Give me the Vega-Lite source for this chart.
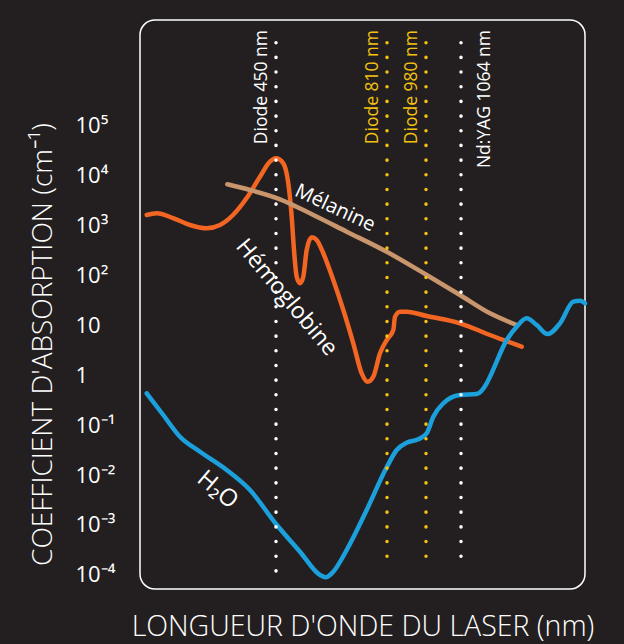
{
  "$schema": "https://vega.github.io/schema/vega-lite/v6.json",
  "width": 445,
  "height": 569,
  "autosize": {"type": "none"},
  "padding": {"left": 140, "top": 20, "right": 39, "bottom": 55},
  "background": "#231f20",
  "config": {
    "view": {"stroke": "#ffffff", "strokeWidth": 1.5, "cornerRadius": 15},
    "font": "Open Sans"
  },
  "datasets": {
    "curves": [
      {"series": "Hémoglobine", "nm": 212.3, "value": 1585},
      {"series": "Hémoglobine", "nm": 230.7, "value": 1714},
      {"series": "Hémoglobine", "nm": 260.7, "value": 1380},
      {"series": "Hémoglobine", "nm": 291.9, "value": 1000},
      {"series": "Hémoglobine", "nm": 322.6, "value": 859},
      {"series": "Hémoglobine", "nm": 347, "value": 1000},
      {"series": "Hémoglobine", "nm": 370.9, "value": 1585},
      {"series": "Hémoglobine", "nm": 396.1, "value": 3467},
      {"series": "Hémoglobine", "nm": 420.6, "value": 9247},
      {"series": "Hémoglobine", "nm": 438.9, "value": 18450},
      {"series": "Hémoglobine", "nm": 450, "value": 21580},
      {"series": "Hémoglobine", "nm": 473.7, "value": 17140},
      {"series": "Hémoglobine", "nm": 489.9, "value": 6823},
      {"series": "Hémoglobine", "nm": 500.9, "value": 1466},
      {"series": "Hémoglobine", "nm": 508.4, "value": 316},
      {"series": "Hémoglobine", "nm": 517.1, "value": 92.5},
      {"series": "Hémoglobine", "nm": 527.8, "value": 68.2},
      {"series": "Hémoglobine", "nm": 538.5, "value": 92.5},
      {"series": "Hémoglobine", "nm": 549.5, "value": 316},
      {"series": "Hémoglobine", "nm": 565.8, "value": 567},
      {"series": "Hémoglobine", "nm": 582, "value": 501},
      {"series": "Hémoglobine", "nm": 603.4, "value": 272},
      {"series": "Hémoglobine", "nm": 635.8, "value": 79.4},
      {"series": "Hémoglobine", "nm": 668.3, "value": 20},
      {"series": "Hémoglobine", "nm": 700.7, "value": 4.31},
      {"series": "Hémoglobine", "nm": 727.9, "value": 1.08},
      {"series": "Hémoglobine", "nm": 747.4, "value": 0.734},
      {"series": "Hémoglobine", "nm": 765.6, "value": 0.925},
      {"series": "Hémoglobine", "nm": 787.3, "value": 2.72},
      {"series": "Hémoglobine", "nm": 809, "value": 5.01},
      {"series": "Hémoglobine", "nm": 837.5, "value": 7.94},
      {"series": "Hémoglobine", "nm": 844.9, "value": 14.7},
      {"series": "Hémoglobine", "nm": 866.7, "value": 18.5},
      {"series": "Hémoglobine", "nm": 895.9, "value": 18.5},
      {"series": "Hémoglobine", "nm": 981.7, "value": 15.1},
      {"series": "Hémoglobine", "nm": 1061.6, "value": 10.8},
      {"series": "Hémoglobine", "nm": 1282.9, "value": 6.31},
      {"series": "Hémoglobine", "nm": 1522.2, "value": 3.68},
      {"series": "Mélanine", "nm": 360.5, "value": 6516},
      {"series": "Mélanine", "nm": 402.2, "value": 5012},
      {"series": "Mélanine", "nm": 463, "value": 3266},
      {"series": "Mélanine", "nm": 571, "value": 1585},
      {"series": "Mélanine", "nm": 679.3, "value": 735},
      {"series": "Mélanine", "nm": 809, "value": 292},
      {"series": "Mélanine", "nm": 981.7, "value": 100},
      {"series": "Mélanine", "nm": 1061.6, "value": 39.8},
      {"series": "Mélanine", "nm": 1282.9, "value": 17.1},
      {"series": "Mélanine", "nm": 1484.4, "value": 10},
      {"series": "H2O", "nm": 212.3, "value": 0.4305},
      {"series": "H2O", "nm": 242.8, "value": 0.1585},
      {"series": "H2O", "nm": 273.5, "value": 0.0583},
      {"series": "H2O", "nm": 310.3, "value": 0.02924},
      {"series": "H2O", "nm": 359.4, "value": 0.01259},
      {"series": "H2O", "nm": 402.2, "value": 0.005012},
      {"series": "H2O", "nm": 450, "value": 0.001047},
      {"series": "H2O", "nm": 527.8, "value": 0.0002924},
      {"series": "H2O", "nm": 592.7, "value": 0.0001},
      {"series": "H2O", "nm": 611.2, "value": 0.00008995},
      {"series": "H2O", "nm": 635.8, "value": 0.0001164},
      {"series": "H2O", "nm": 679.3, "value": 0.0003162},
      {"series": "H2O", "nm": 744.1, "value": 0.001995},
      {"series": "H2O", "nm": 809, "value": 0.01426},
      {"series": "H2O", "nm": 852.3, "value": 0.03162},
      {"series": "H2O", "nm": 895.9, "value": 0.04426},
      {"series": "H2O", "nm": 946.4, "value": 0.05176},
      {"series": "H2O", "nm": 981.7, "value": 0.06823},
      {"series": "H2O", "nm": 997.5, "value": 0.1466},
      {"series": "H2O", "nm": 1021.5, "value": 0.2716},
      {"series": "H2O", "nm": 1061.6, "value": 0.3981},
      {"series": "H2O", "nm": 1182.5, "value": 0.4169},
      {"series": "H2O", "nm": 1258, "value": 0.6823},
      {"series": "H2O", "nm": 1282.9, "value": 0.9247},
      {"series": "H2O", "nm": 1408.9, "value": 5.012},
      {"series": "H2O", "nm": 1484.4, "value": 9.247},
      {"series": "H2O", "nm": 1559.9, "value": 13.61},
      {"series": "H2O", "nm": 1635.4, "value": 10},
      {"series": "H2O", "nm": 1716.9, "value": 6.607},
      {"series": "H2O", "nm": 1811.2, "value": 10.81},
      {"series": "H2O", "nm": 1911.6, "value": 29.24},
      {"series": "H2O", "nm": 1962.2, "value": 30.6},
      {"series": "H2O", "nm": 2000, "value": 27.2}
    ],
    "lasers": [
      {"laser": "Diode 450 nm", "nm": 450, "top": 4430000, "bottom": 0.0000724, "side": "gauche"},
      {"laser": "Diode 810 nm", "nm": 810, "top": 4430000, "bottom": 0.000126, "side": "gauche"},
      {"laser": "Diode 980 nm", "nm": 980, "top": 4430000, "bottom": 0.000126, "side": "gauche"},
      {"laser": "Nd:YAG 1064 nm", "nm": 1064, "top": 4430000, "bottom": 0.000126, "side": "droite"}
    ]
  },
  "encoding": {
    "x": {
      "field": "nm",
      "type": "quantitative",
      "scale": {"domain": [200, 450, 810, 980, 1064, 2000], "range": [0, 136, 247, 286, 321, 445], "nice": false, "zero": false},
      "axis": {
        "title": "LONGUEUR D'ONDE DU LASER (nm)",
        "labels": false, "ticks": false, "domain": false, "grid": false,
        "titleFont": "Open Sans", "titleFontSize": 28.5, "titleFontWeight": 300,
        "titleColor": "#ffffff", "titlePadding": 23
      }
    },
    "y": {
      "field": "value",
      "type": "quantitative",
      "scale": {"type": "log", "domain": [0.00005248, 12590000], "nice": false, "zero": false},
      "axis": {
        "title": "COEFFICIENT D'ABSORPTION (cm⁻¹)",
        "values": [0.0001, 0.001, 0.01, 0.1, 1, 10, 100, 1000, 10000, 100000],
        "labelExpr": "['10⁻⁴','10⁻³','10⁻²','10⁻¹','1','10','10²','10³','10⁴','10⁵'][round(log(datum.value)/LN10)+4]",
        "ticks": false, "tickSize": 0, "domain": false, "grid": false,
        "labelAlign": "left", "labelPadding": 65, "labelBaseline": "middle",
        "labelFont": "Open Sans", "labelFontSize": 22, "labelColor": "#ffffff",
        "labelFlush": false, "labelOverlap": false,
        "titleFont": "Open Sans", "titleFontSize": 28, "titleFontWeight": 300,
        "titleColor": "#ffffff", "titlePadding": 18, "titleY": 324
      }
    }
  },
  "layer": [
    {
      "data": {"name": "curves"},
      "mark": {"type": "line", "strokeWidth": 4.5, "interpolate": "monotone", "strokeCap": "round"},
      "encoding": {
        "color": {
          "field": "series", "type": "nominal", "legend": null,
          "scale": {"domain": ["Mélanine", "Hémoglobine", "H2O", "Diode 450 nm", "Diode 810 nm", "Diode 980 nm", "Nd:YAG 1064 nm"],
                    "range": ["#c8956d", "#f26522", "#1ca0dc", "#ffffff", "#f5c211", "#f5c211", "#ffffff"]}
        },
        "order": {"field": "nm", "type": "quantitative"}
      }
    },
    {
      "data": {"name": "lasers"},
      "mark": {"type": "rule", "strokeWidth": 3.5, "strokeCap": "round", "strokeDash": [0.1, 14.57]},
      "encoding": {
        "y": {"field": "top", "type": "quantitative"},
        "y2": {"field": "bottom"},
        "color": {"field": "laser", "type": "nominal", "legend": null}
      }
    },
    {
      "data": {"name": "lasers"},
      "transform": [{"filter": "datum.side == 'gauche'"}],
      "mark": {"type": "text", "angle": 270, "align": "right", "baseline": "alphabetic", "dx": 12.7, "dy": -9.5, "fontSize": 17.5, "font": "Open Sans"},
      "encoding": {
        "y": {"field": "top", "type": "quantitative"},
        "text": {"field": "laser", "type": "nominal"},
        "color": {"field": "laser", "type": "nominal", "legend": null}
      }
    },
    {
      "data": {"name": "lasers"},
      "transform": [{"filter": "datum.side == 'droite'"}],
      "mark": {"type": "text", "angle": 270, "align": "right", "baseline": "alphabetic", "dx": 12.7, "dy": 29, "fontSize": 17.5, "font": "Open Sans"},
      "encoding": {
        "y": {"field": "top", "type": "quantitative"},
        "text": {"field": "laser", "type": "nominal"},
        "color": {"field": "laser", "type": "nominal", "legend": null}
      }
    },
    {
      "data": {"values": [{"label": "Mélanine", "nm": 641.3, "value": 2188}]},
      "mark": {"type": "text", "angle": 25, "fontSize": 20, "color": "#ffffff", "font": "Open Sans", "baseline": "middle"},
      "encoding": {"text": {"field": "label", "type": "nominal"}}
    },
    {
      "data": {"values": [{"label": "Hémoglobine", "nm": 484.7, "value": 35.5}]},
      "mark": {"type": "text", "angle": 50, "fontSize": 23, "color": "#ffffff", "font": "Open Sans", "baseline": "middle"},
      "encoding": {"text": {"field": "label", "type": "nominal"}}
    },
    {
      "data": {"values": [{"label": "H₂O", "nm": 342.4, "value": 0.005}]},
      "mark": {"type": "text", "angle": 40, "fontSize": 24, "color": "#ffffff", "font": "Open Sans", "baseline": "middle"},
      "encoding": {"text": {"field": "label", "type": "nominal"}}
    }
  ]
}
